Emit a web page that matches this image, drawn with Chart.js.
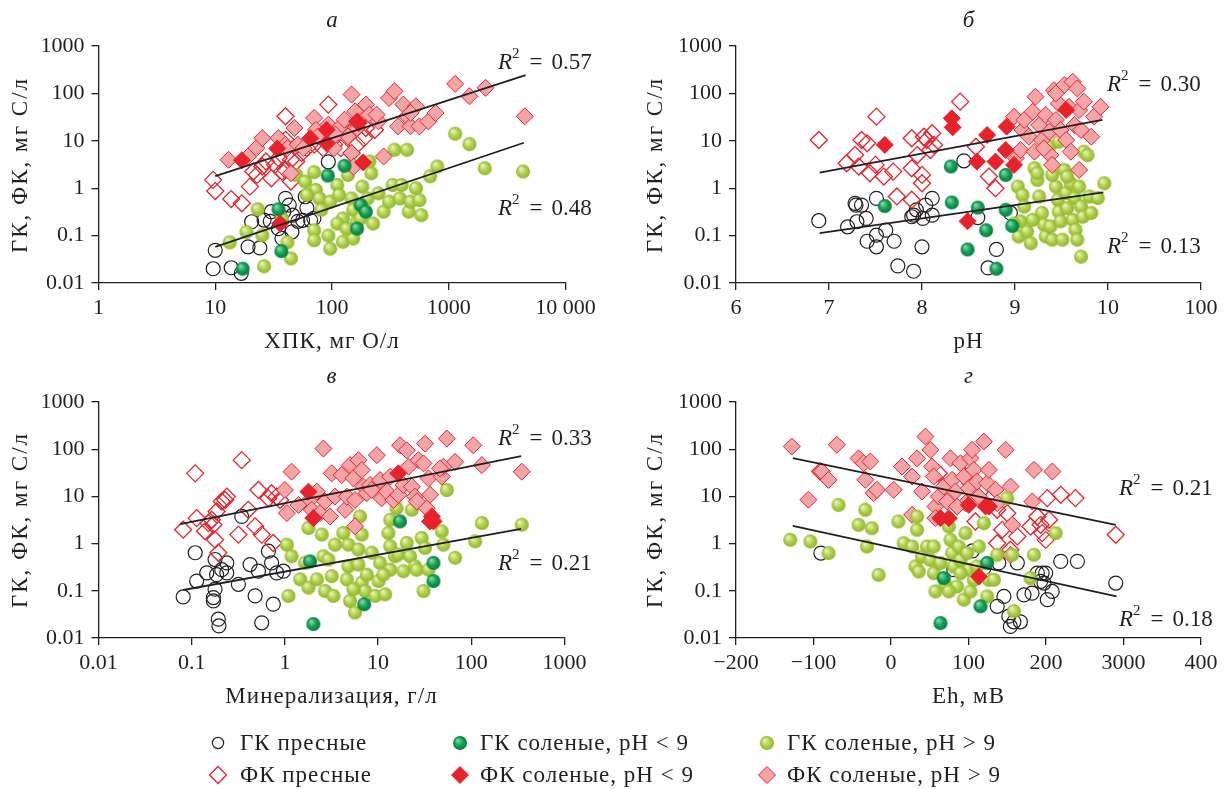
<!DOCTYPE html>
<html>
<head>
<meta charset="utf-8">
<script src="https://cdn.jsdelivr.net/npm/chart.js@4.4.1/dist/chart.umd.min.js"></script>
<style>
  body { margin: 0; background: #fff; }
  #fig { position: relative; width: 1227px; height: 789px; overflow: hidden;
         font-family: "Liberation Serif", "Times New Roman", serif; color: #231f20; }
  #fig canvas { position: absolute; left: 0; top: 0; pointer-events: none; }
  .t { position: absolute; white-space: nowrap; font-size: 23px; letter-spacing: 1px;
       transform: translate(-50%, -50%); }
  .panel { font-style: italic; letter-spacing: 0; }
  .ytitle { transform: translate(-50%, -50%) rotate(-90deg); letter-spacing: 2px; }
  .r2 { position: absolute; white-space: nowrap; font-size: 23px; transform: translateY(-50%); }
  .r2 sup { font-size: 15px; position: relative; top: -2px; }
  .r2 .eq { margin: 0 9px 0 10px; }
  .lg { position: absolute; white-space: nowrap; font-size: 23px; letter-spacing: 1px; transform: translateY(-50%); }
  .ic { position: absolute; transform: translate(-50%, -50%); }
</style>
</head>
<body>
<div id="fig"></div>
<script>
// ---- values: [x, y] ----
// а: ХПК, мг О/л
const A_GK_FRESH = [[9.6,0.020],[13.7,0.021],[16.7,0.016],[10,0.049],[19.1,0.058],[24.1,0.055],[20.5,0.196],[26.2,0.213],[30.2,0.32],[38.6,0.32],[40,0.61],[46,0.27],[34.8,0.14],[45.4,0.12],[37.3,0.087],[56,0.21],[59,0.66],[61,0.38],[65.6,0.21],[70,0.23],[93,3.6],[29.6,0.2],[51,0.2],[43,0.44]];
const A_GK_SALT_LOW = [[17.2,0.02],[34.8,0.36],[36.8,0.047],[92,1.85],[128,2.97],[176,0.44],[195,0.32],[164,0.14]];
const A_GK_SALT_HIGH = [[13.3,0.072],[18.5,0.12],[23.1,0.36],[26.2,0.0225],[25.3,0.102],[41.5,0.072],[44.5,0.033],[37.3,0.23],[49.4,1.91],[59,1.38],[70.3,2.18],[72.8,0.92],[78.2,0.61],[70.3,0.13],[70.3,0.08],[93,0.10],[96.6,0.053],[96.6,0.52],[111,1.17],[115,0.72],[124,0.074],[137,1.91],[147,0.61],[152,0.35],[152,0.087],[164,0.196],[182,1.08],[202,0.61],[209,3.66],[217,2.07],[225,0.18],[250,0.78],[277,0.32],[308,0.52],[331,1.17],[343,6.46],[381,0.61],[395,1.17],[439,6.46],[454,0.32],[471,0.52],[523,1.0],[561,0.56],[582,0.27],[693,1.78],[798,2.87],[1135,14.1],[1504,8.5],[2036,2.64],[4325,2.25],[124,0.23],[81,0.35],[111,0.18],[176,0.23],[61,0.72],[133,0.14]];
const A_FK_FRESH = [[9.6,1.5],[10,0.87],[13.7,0.59],[16.9,0.48],[19.8,1.08],[22.8,1.91],[25.3,2.87],[30.2,1.62],[32.4,3.11],[34.8,4.3],[40,32.9],[40,2.44],[44.5,1.38],[37.3,2.25],[49.4,3.66],[61,7.0],[70.3,8.3],[93,58],[84,7.0],[104,8.3],[119,7.0],[147,5.5],[164,8.3],[188,11.4],[195,18.6],[233,17.1],[21.2,2.25],[27.2,3.66],[40,10.5],[44.5,3.97],[55,5.5],[142,14.6]];
const A_FK_SALT_LOW = [[16.9,3.9],[34,6.9],[36,0.18],[65,11.3],[90,17.1],[90,8.8],[170,23.8],[185,3.5],[164,25.7]];
const A_FK_SALT_HIGH = [[13,3.97],[19.1,4.67],[22.5,7.0],[25.3,11.4],[34.8,11.4],[40,8.3],[41.5,7.0],[47.7,18.6],[51,8.3],[57,7.0],[70.3,30.3],[72.8,17.1],[75.5,12.4],[93,21.9],[104,7.0],[115,18.6],[128,27.9],[137,12.4],[147,94.6],[158,42],[164,18.6],[195,58],[209,35.7],[250,25.7],[277,4.67],[308,80],[343,111],[368,20.2],[409,58],[439,32.9],[471,20.2],[523,53.6],[561,20.2],[670,25.7],[771,38.7],[1135,159],[1504,87],[2065,131],[4480,32.9],[147,5.5],[153,2.85],[44.5,2.07],[107,13.5],[241,35.7],[471,38.7]];

// б: pH
const B_GK_FRESH = [[6.89,0.206],[7.20,0.153],[7.28,0.48],[7.35,0.44],[7.30,0.196],[7.40,0.23],[7.41,0.076],[7.51,0.61],[7.51,0.102],[7.51,0.058],[7.61,0.13],[7.70,0.076],[7.74,0.023],[7.91,0.0177],[7.91,0.27],[7.94,0.35],[8.0,0.058],[8.01,0.23],[8.04,0.44],[8.11,0.61],[8.11,0.27],[8.45,3.78],[8.60,0.24],[8.71,0.0208],[8.80,0.051],[7.29,0.44],[7.89,0.25],[8.95,0.3]];
const B_GK_SALT_LOW = [[7.60,0.42],[8.31,2.87],[8.32,0.5],[8.60,0.39],[8.69,0.13],[8.49,0.051],[8.80,0.020],[8.90,1.91],[8.90,0.35],[8.97,0.16]];
const B_GK_SALT_HIGH = [[9.03,1.08],[9.08,0.72],[9.10,0.41],[9.06,0.2],[9.04,0.096],[9.13,0.122],[9.17,0.069],[9.21,2.64],[9.24,1.5],[9.26,0.67],[9.29,0.3],[9.31,0.17],[9.33,0.096],[9.38,0.156],[9.40,0.082],[9.44,1.08],[9.46,0.57],[9.47,0.32],[9.49,0.2],[9.51,0.082],[9.53,2.43],[9.55,0.79],[9.56,0.38],[9.60,1.27],[9.62,0.215],[9.64,0.62],[9.65,0.133],[9.69,1.08],[9.71,0.41],[9.73,0.25],[9.74,5.9],[9.78,5.0],[9.80,0.67],[9.82,0.3],[9.89,0.62],[9.96,1.27],[9.71,0.036],[9.37,7.5],[9.47,9.6],[9.24,2.07],[8.99,0.18],[9.19,0.215],[9.56,1.76],[9.40,1.91],[9.67,0.082]];
const B_FK_FRESH = [[6.89,10.4],[7.19,3.36],[7.28,5.0],[7.32,2.86],[7.35,10.4],[7.41,8.85],[7.44,2.07],[7.50,3.1],[7.51,32.3],[7.59,1.76],[7.69,2.24],[7.73,0.67],[7.89,11.3],[7.89,0.57],[7.95,5.0],[8.0,1.91],[8.0,1.27],[8.02,12.2],[8.05,10.4],[8.11,14.4],[8.13,8.2],[8.41,67],[8.58,7.5],[8.72,1.76],[8.79,1.0],[7.89,2.64],[8.09,6.4]];
const B_FK_SALT_LOW = [[7.60,8.2],[8.32,29.8],[8.33,19.2],[8.59,3.64],[8.70,13.3],[8.79,3.64],[8.90,6.4],[8.91,19.9],[8.99,3.1],[8.49,0.2],[9.55,44.6]];
const B_FK_SALT_HIGH = [[8.99,32.3],[9.01,4.3],[9.06,6.4],[9.08,16.9],[9.10,27.5],[9.15,12.2],[9.19,41],[9.21,5.9],[9.22,85],[9.26,21.5],[9.29,10.4],[9.33,35],[9.37,15.6],[9.38,5.0],[9.40,3.1],[9.42,117],[9.44,27.5],[9.47,61],[9.49,16.9],[9.53,150],[9.55,10.4],[9.58,52],[9.60,5.9],[9.62,176],[9.64,21.5],[9.67,127],[9.69,44.6],[9.71,16.9],[9.74,67],[9.82,12.2],[9.85,32.3],[9.92,52],[9.44,100],[9.69,2.43],[9.31,6.95]];

// в: Минерализация, г/л
const C_GK_FRESH = [[0.081,0.074],[0.109,0.64],[0.113,0.161],[0.145,0.24],[0.171,0.072],[0.171,0.061],[0.178,0.46],[0.185,0.22],[0.193,0.025],[0.196,0.018],[0.21,0.28],[0.238,0.39],[0.238,0.24],[0.317,0.137],[0.344,3.76],[0.423,0.36],[0.479,0.078],[0.52,0.26],[0.564,0.021],[0.665,0.69],[0.72,0.39],[0.75,0.052],[0.817,0.24],[0.964,0.26],[0.178,0.108]];
const C_GK_SALT_LOW = [[1.86,0.42],[7.1,0.052],[2.02,0.0197],[17.2,2.95],[39.3,0.39],[39.3,0.161]];
const C_GK_SALT_HIGH = [[1.05,0.95],[1.18,0.54],[1.09,0.078],[1.46,0.175],[1.65,0.39],[1.79,2.14],[1.79,0.117],[2.2,0.175],[2.49,1.55],[2.59,0.54],[2.7,0.099],[3.18,0.205],[3.32,0.078],[3.45,0.95],[4.24,1.68],[4.8,0.95],[4.8,0.33],[5.0,0.061],[5.66,0.0347],[6.15,0.75],[6.15,0.36],[6.4,3.76],[6.68,1.55],[6.68,0.149],[7.25,0.099],[7.56,0.22],[8.55,0.64],[9.3,0.078],[10.1,0.161],[10.5,0.39],[11.9,0.084],[12.9,1.68],[13.5,3.2],[13.5,0.28],[13.5,0.88],[15.2,0.54],[15.8,5.64],[16.5,0.59],[18.7,0.26],[20.3,1.03],[22,0.54],[24.9,0.33],[26,0.28],[29.4,1.32],[30.7,0.099],[31.9,0.81],[34.7,0.28],[48.2,1.82],[50.2,0.95],[54.6,13.7],[67,0.5],[110,1.12],[130,2.72],[348,2.51],[2.93,0.46],[4.62,0.175],[23,5.2],[5.43,0.108],[11.4,0.22]];
const C_FK_FRESH = [[0.081,1.97],[0.109,30.8],[0.113,3.47],[0.139,1.82],[0.151,2.72],[0.164,3.2],[0.171,2.51],[0.178,1.21],[0.185,4.8],[0.193,0.64],[0.21,7.8],[0.228,8.4],[0.238,9.9],[0.317,1.55],[0.344,58.6],[0.405,5.2],[0.479,2.32],[0.52,13.7],[0.564,1.55],[0.665,9.1],[0.75,1.03],[0.817,9.9],[0.887,8.4],[0.72,11.7]];
const C_FK_SALT_LOW = [[1.79,12.6],[2.02,3.47],[16.5,30.8],[37.7,3.76],[39.3,2.95],[36.1,2.95]];
const C_FK_SALT_HIGH = [[1.0,13.7],[1.05,4.43],[1.18,33.4],[1.4,6.6],[1.86,8.4],[1.94,5.2],[2.2,12.6],[2.38,4.43],[2.59,103],[2.7,7.8],[3.05,3.76],[3.18,30.8],[3.45,9.9],[4.07,28.4],[4.43,5.2],[4.62,9.9],[5.0,46],[5.43,24.1],[5.66,8.4],[6.15,58.6],[6.68,36.1],[6.97,16.1],[7.56,11.7],[8.2,17.5],[8.55,13.7],[9.7,74.8],[10.5,22.2],[10.9,9.1],[12.4,12.6],[13.5,26.2],[14.6,8.4],[16.5,10.8],[17.2,121],[18.7,17.5],[20.3,95],[21.2,42.5],[23,16.1],[24.9,9.9],[27.1,58.6],[30.7,50],[31.9,131],[33.3,5.64],[34.7,24.1],[48.2,26.2],[50.2,42.5],[54.6,168],[67,54],[105,121],[130,46],[348,33.4],[5.66,2.32],[26,7.8],[36.1,10.8],[46.2,39.2]];

// г: Eh, мВ
const D_GK_FRESH = [[-90.5,0.63],[81,0.28],[105,0.7],[119.8,0.3],[137,0.047],[139,0.39],[145.7,0.076],[152,0.029],[158.6,0.022],[163,0.39],[167,0.022],[171.6,0.082],[182,0.089],[188.8,0.237],[193,0.158],[195,0.237],[199.6,0.237],[201.7,0.065],[208,0.097],[219,0.42],[240.5,0.42],[290,0.146],[154,0.0176],[197.4,0.146]];
const D_GK_SALT_LOW = [[63.8,0.0207],[115.5,0.047],[124,0.39],[68,0.186]];
const D_GK_SALT_HIGH = [[-130,1.2],[-104,1.11],[-80.6,0.63],[-67.7,6.6],[-41.8,2.5],[-33.2,5.2],[-31,0.87],[-24.6,2.12],[-16,0.218],[9.5,2.94],[16.4,1.02],[31.5,0.33],[33.6,3.75],[33.6,1.96],[35.8,0.257],[40,0.53],[46.5,0.87],[50.9,0.45],[55.2,0.237],[57.3,0.097],[63.8,0.39],[70.3,0.134],[74.6,2.3],[76.7,1.2],[78.9,0.63],[81,0.33],[85.3,0.124],[87.5,0.87],[89.7,0.45],[94,0.065],[96.1,1.67],[98.3,0.63],[100.4,0.28],[102.6,0.097],[106.9,0.171],[111.2,0.33],[113.4,0.87],[119.8,2.71],[124.1,0.076],[126.3,0.171],[132.8,0.171],[137,0.58],[150,9.2],[156.5,0.58],[158.6,0.037],[180,0.186],[184.5,0.58],[212.5,1.67],[74.6,0.097],[89.7,0.237],[55.2,0.87],[27.2,0.87]];
const D_FK_FRESH = [[-91.4,33.7],[61.6,31],[102.6,19.1],[109,2.94],[126.3,8.5],[137,5.2],[137,1.02],[143.5,1.96],[150,4.4],[154,0.74],[163,1.42],[180,2.3],[188.8,3.75],[193,2.5],[195,1.67],[199.6,1.2],[201.7,9.2],[204,3.19],[219,10.8],[238,9.2],[290,1.54],[96,26.4]];
const D_FK_SALT_LOW = [[63.8,3.46],[74.6,3.46],[100.4,6.6],[122,6.1],[126.3,6.1],[113.4,0.2]];
const D_FK_SALT_HIGH = [[-128,114],[-69.8,124],[-106.5,8.5],[-89.2,33.7],[-80.6,22.4],[-41.8,64],[-35.3,50.5],[-33.2,22.4],[-26.7,55],[-22.4,11.7],[-18.1,13.8],[3.4,13.8],[14.2,43],[27.2,26.4],[33.6,64],[44.4,185],[50.9,97],[53,43],[55.2,26.4],[57.3,6.1],[61.6,9.95],[68.1,16.2],[72.4,7.8],[76.7,64],[78.9,22.4],[83.2,12.7],[89.7,50.5],[94,26.4],[96.1,7.2],[100.4,14.9],[102.6,64],[106.9,36.5],[104.7,97],[111.2,20.7],[113.4,9.95],[119.8,145],[124.1,19.1],[126.3,36.5],[134.9,13.8],[137,7.2],[147.8,97],[154.3,16.2],[156.5,2.5],[182.3,7.8],[184.5,36.5],[208.2,33.7],[40.1,12.7],[27.2,4.07],[57.3,3.46],[85.3,6.1],[154.3,0.58]];

// trend lines: [[x0, y0], [x1, y1]] for ФК (upper) and ГК (lower)
const A_FIT_FK = [[10,1.8],[4550,243]], A_FIT_GK = [[10,0.058],[4400,9.1]];
const B_FIT_FK = [[6.9,2.14],[9.94,27.5]], B_FIT_GK = [[6.9,0.113],[9.95,0.82]];
const C_FIT_FK = [[0.075,2.6],[343,71]], C_FIT_GK = [[0.081,0.104],[343,2.04]];
const D_FIT_FK = [[-126.7,64.4],[290,2.5]], D_FIT_GK = [[-126.7,2.38],[291,0.076]];

const R2_LABELS = [["0.57","0.48"],["0.30","0.13"],["0.33","0.21"],["0.21","0.18"]];
const Y_TICKS = [0.01, 0.1, 1, 10, 100, 1000];
const A_X_TICKS = [1, 10, 100, 1000, 10000];
const B_X_TICKS = [6, 7, 8, 9, 10, 11];
const C_X_TICKS = [0.01, 0.1, 1, 10, 100, 1000];
const D_X_TICKS = [-200, -100, 0, 100, 200, 300, 400];

// ---- styling ----
const INK = '#231f20';
const RED = '#e8222a';
const PINK = '#f5a4a7';
const W = 1227, H = 789, Y_W = 60, X_H = 40;
const fig = document.getElementById('fig');

function sphere(r, light, base, dark) {
    const c = document.createElement('canvas');
    const s = Math.ceil(2 * r + 2);
    c.width = c.height = s;
    const g = c.getContext('2d');
    const m = s / 2;
    const grad = g.createRadialGradient(m - r * 0.35, m - r * 0.4, r * 0.1, m, m, r);
    grad.addColorStop(0, light);
    grad.addColorStop(0.55, base);
    grad.addColorStop(1, dark);
    g.fillStyle = grad;
    g.beginPath();
    g.arc(m, m, r, 0, Math.PI * 2);
    g.fill();
    return c;
}
const SPHERE_LIGHT = sphere(7, '#e6f2b5', '#aed04a', '#90b52c');
const SPHERE_DARK = sphere(7, '#7fd8a4', '#12a055', '#087a3a');

const pts = arr => arr.map(([x, y]) => ({ x, y }));

function styles(greenOnTop) {
    return {
        gkFresh: { pointStyle: 'circle', pointRadius: 7, backgroundColor: 'rgba(0,0,0,0)', borderColor: INK, borderWidth: 1.2, order: 7 },
        fkFresh: { pointStyle: 'rectRot', pointRadius: 8.5, backgroundColor: 'rgba(0,0,0,0)', borderColor: RED, borderWidth: 1.3, order: 6 },
        gkHigh: { pointStyle: SPHERE_LIGHT, pointRadius: 7, order: greenOnTop ? 3 : 5 },
        fkHigh: { pointStyle: 'rectRot', pointRadius: 8.5, backgroundColor: PINK, borderColor: RED, borderWidth: 1, order: greenOnTop ? 5 : 4 },
        gkLow: { pointStyle: SPHERE_DARK, pointRadius: 7, order: 2 },
        fkLow: { pointStyle: 'rectRot', pointRadius: 8.5, backgroundColor: RED, borderColor: RED, borderWidth: 1, order: 1 },
    };
}

function fitLine(arr) {
    return { type: 'line', data: pts(arr), borderColor: INK, borderWidth: 1.8, pointRadius: 0, order: 0 };
}

const tickFont = { family: '"Liberation Serif", serif', size: 22 };

function axisBase(ticks, fmt, fitFn) {
    return {
        afterFit: fitFn,
        afterBuildTicks: s => { s.ticks = ticks.map(v => ({ value: v })); },
        ticks: { callback: v => fmt(v), font: tickFont, color: INK, autoSkip: false, maxRotation: 0 },
        grid: { drawOnChartArea: false, drawTicks: true, tickLength: 7, color: INK, lineWidth: 1.3 },
        border: { color: INK, width: 1.3 },
    };
}

function makePanel(p) {
    const cv = document.createElement('canvas');
    cv.width = W; cv.height = H;
    fig.appendChild(cv);
    const st = styles(p.greenOnTop);
    const datasets = [
        { data: pts(p.gkFresh), ...st.gkFresh },
        { data: pts(p.fkFresh), ...st.fkFresh },
        { data: pts(p.gkHigh), ...st.gkHigh },
        { data: pts(p.fkHigh), ...st.fkHigh },
        { data: pts(p.gkLow), ...st.gkLow },
        { data: pts(p.fkLow), ...st.fkLow },
        fitLine(p.fitFk),
        fitLine(p.fitGk),
    ];
    const x = axisBase(p.xTicks, p.xFmt, s => { s.height = X_H; });
    Object.assign(x, { type: p.xType, min: p.xTicks[0], max: p.xTicks[p.xTicks.length - 1] });
    x.ticks.padding = 5;
    const y = axisBase(Y_TICKS, v => String(v), s => { s.width = Y_W; });
    Object.assign(y, { type: 'logarithmic', min: 0.01, max: 1000 });
    y.ticks.padding = 7;

    new Chart(cv, {
        type: 'scatter',
        data: { datasets },
        options: {
            responsive: false,
            animation: false,
            devicePixelRatio: 1,
            layout: { padding: { left: p.left - Y_W, right: W - p.right, top: p.top, bottom: H - p.bottom - X_H } },
            plugins: { legend: { display: false }, tooltip: { enabled: false } },
            scales: { x, y },
        },
    });
}

const minus = v => (v < 0 ? '\u2212' + Math.abs(v) : String(v));

const panels = [
    { left: 98.5, right: 565.5, top: 46, bottom: 283, xType: 'logarithmic', xTicks: A_X_TICKS,
      xFmt: v => (v === 10000 ? '10 000' : String(v)),
      gkFresh: A_GK_FRESH, fkFresh: A_FK_FRESH, gkHigh: A_GK_SALT_HIGH, fkHigh: A_FK_SALT_HIGH,
      gkLow: A_GK_SALT_LOW, fkLow: A_FK_SALT_LOW, fitFk: A_FIT_FK, fitGk: A_FIT_GK },
    { left: 736, right: 1201, top: 46, bottom: 283, xType: 'linear', xTicks: B_X_TICKS,
      xFmt: v => (v === 11 ? '100' : String(v)),
      gkFresh: B_GK_FRESH, fkFresh: B_FK_FRESH, gkHigh: B_GK_SALT_HIGH, fkHigh: B_FK_SALT_HIGH,
      gkLow: B_GK_SALT_LOW, fkLow: B_FK_SALT_LOW, fitFk: B_FIT_FK, fitGk: B_FIT_GK },
    { left: 98.5, right: 564.5, top: 402, bottom: 638, xType: 'logarithmic', xTicks: C_X_TICKS,
      xFmt: v => String(v),
      gkFresh: C_GK_FRESH, fkFresh: C_FK_FRESH, gkHigh: C_GK_SALT_HIGH, fkHigh: C_FK_SALT_HIGH,
      gkLow: C_GK_SALT_LOW, fkLow: C_FK_SALT_LOW, fitFk: C_FIT_FK, fitGk: C_FIT_GK },
    { left: 736, right: 1201, top: 402, bottom: 638, xType: 'linear', xTicks: D_X_TICKS, greenOnTop: true,
      xFmt: v => (v === 300 ? '3000' : minus(v)),
      gkFresh: D_GK_FRESH, fkFresh: D_FK_FRESH, gkHigh: D_GK_SALT_HIGH, fkHigh: D_FK_SALT_HIGH,
      gkLow: D_GK_SALT_LOW, fkLow: D_FK_SALT_LOW, fitFk: D_FIT_FK, fitGk: D_FIT_GK },
];
panels.forEach(makePanel);

// ---- texts ----
function addText(cls, html, x, y) {
    const d = document.createElement('div');
    d.className = cls;
    d.innerHTML = html;
    d.style.left = x + 'px';
    d.style.top = y + 'px';
    fig.appendChild(d);
    return d;
}
const PANEL_NAMES = ['а', 'б', 'в', 'г'];
const X_TITLES = ['ХПК, мг О/л', 'pH', 'Минерализация, г/л', 'Eh, мВ'];
const Y_TITLE = 'ГК, ФК, мг С/л';
const R2_POS = [[498, 61, 207], [1107, 83, 245], [498, 437, 562], [1119, 487, 618]];

panels.forEach((p, i) => {
    const cx = (p.left + p.right) / 2;
    addText('t panel', PANEL_NAMES[i], cx, p.top - 26);
    addText('t', X_TITLES[i], cx, p.bottom + 58);
    addText('t ytitle', Y_TITLE, i % 2 ? 655 : 20, (p.top + p.bottom) / 2);
    const [rx, ry1, ry2] = R2_POS[i];
    const r2 = v => '<i>R</i><sup>2</sup><span class="eq">=</span>' + v;
    addText('r2', r2(R2_LABELS[i][0]), rx, ry1);
    addText('r2', r2(R2_LABELS[i][1]), rx, ry2);
});

// ---- legend ----
const LEGEND = [
    ['ГК пресные', 'ГК соленые, pH < 9', 'ГК соленые, pH > 9'],
    ['ФК пресные', 'ФК соленые, pH < 9', 'ФК соленые, pH > 9'],
];
const ICONS = [
    ['<svg width="16" height="16"><circle cx="8" cy="8" r="5.6" fill="none" stroke="' + INK + '" stroke-width="1.2"/></svg>',
     'dark', 'light'],
    ['<svg width="20" height="20"><polygon points="10,1.5 18.5,10 10,18.5 1.5,10" fill="none" stroke="' + RED + '" stroke-width="1.3"/></svg>',
     '<svg width="20" height="20"><polygon points="10,1.5 18.5,10 10,18.5 1.5,10" fill="' + RED + '" stroke="' + RED + '"/></svg>',
     '<svg width="20" height="20"><polygon points="10,1.5 18.5,10 10,18.5 1.5,10" fill="' + PINK + '" stroke="' + RED + '"/></svg>'],
];
const LEG_ICON_X = [218, 460, 767], LEG_TEXT_X = [240, 480, 787], LEG_Y = [743, 775];
LEGEND.forEach((row, r) => row.forEach((label, c) => {
    const ic = ICONS[r][c];
    if (ic === 'dark' || ic === 'light') {
        const src = ic === 'dark' ? SPHERE_DARK : SPHERE_LIGHT;
        const im = document.createElement('img');
        im.src = src.toDataURL();
        im.className = 'ic';
        im.style.left = LEG_ICON_X[c] + 'px';
        im.style.top = LEG_Y[r] + 'px';
        fig.appendChild(im);
    } else {
        addText('ic', ic, LEG_ICON_X[c], LEG_Y[r]).style.lineHeight = '0';
    }
    addText('lg', label, LEG_TEXT_X[c], LEG_Y[r]);
}));
</script>
</body>
</html>
